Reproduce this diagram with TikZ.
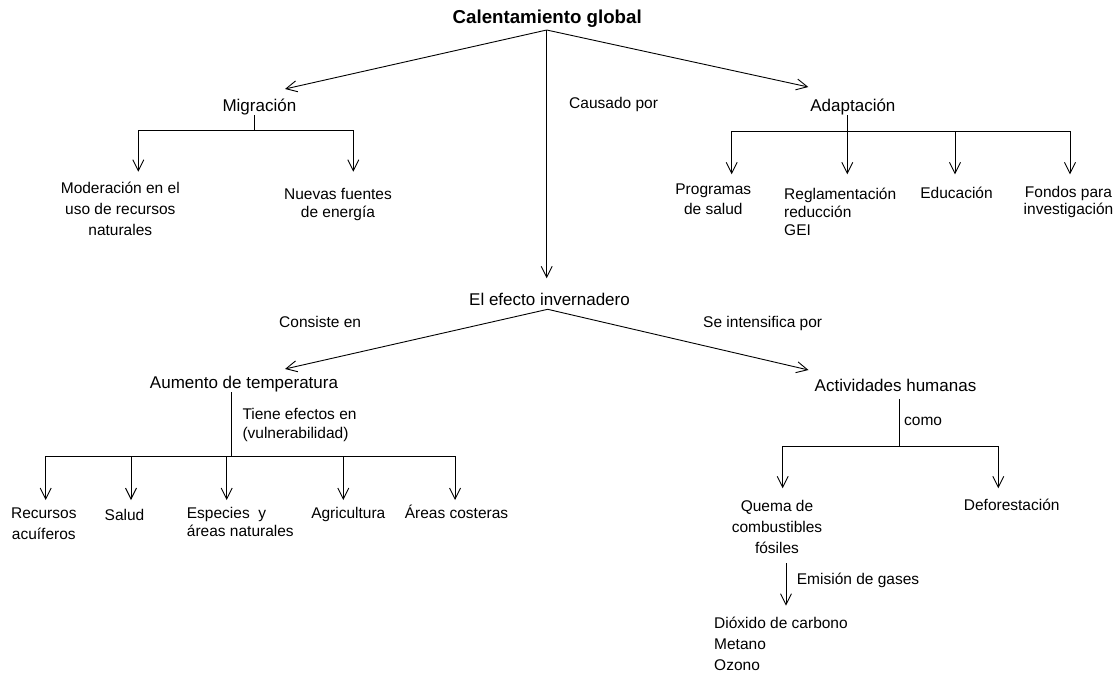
\documentclass[tikz,border=0pt]{standalone}
\usepackage{fontspec}
\setmainfont{Liberation Sans}
\usetikzlibrary{arrows.meta}
\newcommand\fst{\rule{0pt}{16.3pt}}
\begin{document}
\begin{tikzpicture}[x=1pt,y=-1pt,
  line/.style={draw=black, line width=0.9pt},
  arr/.style={line, -{Straight Barb[length=11pt,width=11pt]}},
  main/.style={font=\fontsize{17}{20}\selectfont, inner sep=0pt, anchor=base},
  ttl/.style={font=\fontsize{18.7}{22}\selectfont\bfseries, inner sep=0pt, anchor=base},
  sm/.style={font=\fontsize{15.5}{18.6}\selectfont, inner sep=0pt, anchor=base},
  smw/.style={sm, anchor=base west},
  ml/.style={font=\fontsize{15.5}{#1}\selectfont, inner sep=0pt, anchor=north, align=center},
  mlw/.style={font=\fontsize{15.5}{#1}\selectfont, inner sep=0pt, anchor=north west, align=left},
]
\useasboundingbox (0,0) rectangle (1119,672);

% ---------- nodes ----------
\node[ttl] (cal) at (547.2,23.9) {Calentamiento global};
\node[main] (mig) at (259.4,111.1) {Migración};
\node[main] (adap) at (852.9,111.1) {Adaptación};
\node[smw] (causado) at (569,108) {Causado por};
\node[ml=20.9] (moder) at (120.3,176.7) {\fst Moderación en el\\uso de recursos\\naturales};
\node[ml=18] (nuevas) at (338,182.7) {\fst Nuevas fuentes\\de energía};
\node[ml=20.7] (prog) at (713.3,177.7) {\fst Programas\\de salud};
\node[mlw=18.2] (regl) at (784,182.7) {\fst Reglamentación\\reducción\\GEI};
\node[sm] (educ) at (956.5,198.7) {Educación};
\node[ml=17.3] (fondos) at (1068.5,181.1) {\fst Fondos para\\investigación};
\node[main] (efecto) at (549.5,305.8) {El efecto invernadero};
\node[smw] (consiste) at (279,327.4) {Consiste en};
\node[smw] (seint) at (703,327.4) {Se intensifica por};
\node[main] (aum) at (244,388.8) {Aumento de temperatura};
\node[mlw=19] (tiene) at (242.3,403.4) {\fst Tiene efectos en\\(vulnerabilidad)};
\node[ml=21] (recursos) at (43.8,502.4) {\fst Recursos\\acuíferos};
\node[sm] (salud) at (124.5,520.7) {Salud};
\node[mlw=17.7] (especies) at (186.7,502.4) {\fst Especies\ \ y\\áreas naturales};
\node[sm] (agri) at (348.3,518.7) {Agricultura};
\node[sm] (areas) at (456.5,518.7) {Áreas costeras};
\node[main] (act) at (895.5,391.8) {Actividades humanas};
\node[smw] (como) at (904,425.7) {como};
\node[ml=20.8] (quema) at (777,495.1) {\fst Quema de\\combustibles\\fósiles};
\node[sm] (defor) at (1011.7,510.7) {Deforestación};
\node[smw] (emision) at (796.7,584) {Emisión de gases};
\node[mlw=20.8] (gases) at (714,612.4) {\fst Dióxido de carbono\\Metano\\Ozono};

% ---------- connection points ----------
\coordinate (calOut) at (546.7,30);
\coordinate (migIn) at (285,89);
\coordinate (adapIn) at (808.3,87);
\coordinate (efIn) at (546.7,278.3);

\coordinate (migOut) at (254.3,115);
\coordinate (migJ) at (254.3,130);
\coordinate (moderIn) at (138.3,171.7);
\coordinate (nuevasIn) at (353.3,171.7);

\coordinate (adapOut) at (847.3,115);
\coordinate (adapJ) at (847.3,131.7);
\coordinate (progIn) at (731.7,174.3);
\coordinate (reglIn) at (847.3,174.3);
\coordinate (educIn) at (955,174.3);
\coordinate (fondIn) at (1070,174.3);

\coordinate (efOut) at (547.7,309.3);
\coordinate (aumIn) at (285,369);
\coordinate (actIn) at (808.5,370);

\coordinate (aumOut) at (231.7,392);
\coordinate (aumJ) at (231.7,456.7);
\coordinate (recIn) at (45.7,500);
\coordinate (salIn) at (131,500);
\coordinate (espIn) at (226.7,500);
\coordinate (agrIn) at (343.3,500);
\coordinate (areIn) at (455,500);

\coordinate (actOut) at (899,399.3);
\coordinate (actJ) at (899,446.7);
\coordinate (quemaIn) at (782.7,488.3);
\coordinate (deforIn) at (998.3,488.3);

\coordinate (quemaOut) at (786,563.3);
\coordinate (gasesIn) at (786,605.7);

% ---------- connectors ----------
\draw[arr] (calOut) -- (migIn);
\draw[arr] (calOut) -- (adapIn);
\draw[arr] (calOut) -- (efIn);

\draw[line] (migOut) -- (migJ);
\draw[arr] (migJ) -| (moderIn);
\draw[arr] (migJ) -| (nuevasIn);

\draw[arr] (adapOut) -- (reglIn);
\draw[arr] (adapJ) -| (progIn);
\draw[arr] (adapJ) -| (educIn);
\draw[arr] (adapJ) -| (fondIn);

\draw[arr] (efOut) -- (aumIn);
\draw[arr] (efOut) -- (actIn);

\draw[line] (aumOut) -- (aumJ);
\draw[arr] (aumJ) -| (recIn);
\draw[arr] (aumJ) -| (salIn);
\draw[arr] (aumJ) -| (espIn);
\draw[arr] (aumJ) -| (agrIn);
\draw[arr] (aumJ) -| (areIn);

\draw[line] (actOut) -- (actJ);
\draw[arr] (actJ) -| (quemaIn);
\draw[arr] (actJ) -| (deforIn);

\draw[arr] (quemaOut) -- (gasesIn);
\end{tikzpicture}
\end{document}
